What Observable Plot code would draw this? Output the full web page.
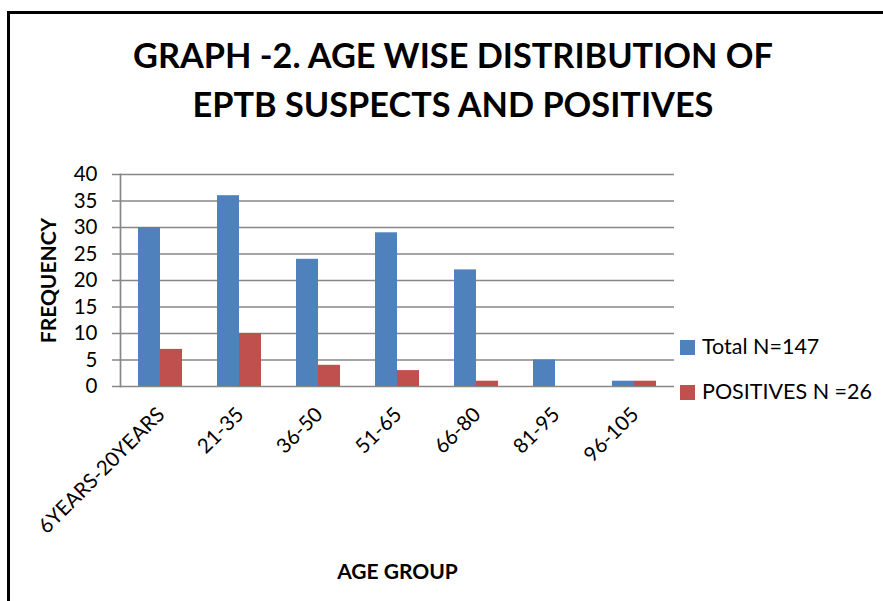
<!DOCTYPE html>
<html><head><meta charset="utf-8">
<script src="https://cdn.jsdelivr.net/npm/d3@7"></script>
<script src="https://cdn.jsdelivr.net/npm/@observablehq/plot@0.6"></script>
<style>
body{margin:0;background:#fff;}
#wrap{position:relative;width:883px;height:601px;overflow:hidden;background:#fff;font-family:Lato,"Noto Sans",sans-serif;color:#000;}
#border{position:absolute;left:7px;top:11px;width:900px;height:620px;border:3px solid #000;}
.title{position:absolute;left:0;width:906px;text-align:center;font-weight:700;white-space:nowrap;line-height:1;}
.title span{display:inline-block;}
#chart{position:absolute;left:0;top:150px;}
.leg{position:absolute;left:680px;display:flex;align-items:center;font-size:21.5px;white-space:nowrap;line-height:1;}
.leg i{display:inline-block;width:15px;height:15px;margin-right:7px;}
</style></head>
<body>
<div id="wrap">
  <div id="border"></div>
  <div class="title" id="t1" style="top:38px"><span></span></div>
  <div class="title" id="t2" style="top:87px"><span></span></div>
  <div id="chart"></div>
</div>
<script>
const titleLines = ["GRAPH -2. AGE WISE DISTRIBUTION OF", "EPTB SUSPECTS AND POSITIVES"];
const categories = ["6YEARS-20YEARS","21-35","36-50","51-65","66-80","81-95","96-105"];
const totalValues = [30,36,24,29,22,5,1];
const positiveValues = [7,10,4,3,1,0,1];
const yTicks = [0,5,10,15,20,25,30,35,40];
const seriesNames = ["Total N=147","POSITIVES N =26"];
const seriesColors = ["#4F81BD","#C0504D"];
const xLabel = "AGE GROUP";
const yLabel = "FREQUENCY";

// title
const s1 = document.querySelector("#t1 span"), s2 = document.querySelector("#t2 span");
s1.textContent = titleLines[0]; s2.textContent = titleLines[1];
s1.style.fontSize = s2.style.fontSize = "36px";
const w = s1.getBoundingClientRect().width;
const fs = 36 * 640 / w;
s1.style.fontSize = s2.style.fontSize = fs + "px";

const rows = categories.map((c,i)=>({category:c,total:totalValues[i],positives:positiveValues[i]}));
const grid = "#878787";
const plot = Plot.plot({
  width:883, height:451,
  marginTop:24, marginBottom:215, marginLeft:120, marginRight:209,
  style:{fontFamily:"Lato, 'Noto Sans', sans-serif", color:"#000", background:"transparent", overflow:"visible"},
  x:{type:"band", domain:categories, paddingInner:0.722, paddingOuter:0.361, axis:null},
  y:{domain:[0,40], axis:null},
  marks:[
    Plot.ruleY(yTicks, {stroke:grid, strokeWidth:1.7, insetLeft:-8}),
    Plot.frame({anchor:"left", stroke:grid, strokeWidth:1.7}),
    Plot.barY(rows, {x:"category", y:"total", fill:seriesColors[0], dx:-11}),
    Plot.barY(rows, {x:"category", y:"positives", fill:seriesColors[1], dx:11}),
    Plot.axisY({ticks:yTicks, tickSize:0, tickPadding:23, fontSize:20.5, tickFormat:d=>String(d)}),
    Plot.text(categories, {x:d=>d, frameAnchor:"bottom", rotate:-45, textAnchor:"end", lineAnchor:"top", dx:-5, dy:19, fontSize:20.5}),
    Plot.text([xLabel], {frameAnchor:"bottom", textAnchor:"middle", lineAnchor:"middle", dy:186, fontWeight:700, fontSize:21}),
    Plot.text([yLabel], {frameAnchor:"left", textAnchor:"middle", lineAnchor:"middle", dx:-71, rotate:-90, fontWeight:700, fontSize:21})
  ]
});
document.getElementById("chart").appendChild(plot);

// legend
const legTops = [347, 392];
seriesNames.forEach((n,i)=>{
  const d = document.createElement("div");
  d.className = "leg";
  d.style.top = (legTops[i]-11) + "px";
  d.style.height = "22px";
  const sw = document.createElement("i");
  sw.style.background = seriesColors[i];
  d.appendChild(sw);
  d.appendChild(document.createTextNode(n));
  document.getElementById("wrap").appendChild(d);
});
</script>
</body></html>
